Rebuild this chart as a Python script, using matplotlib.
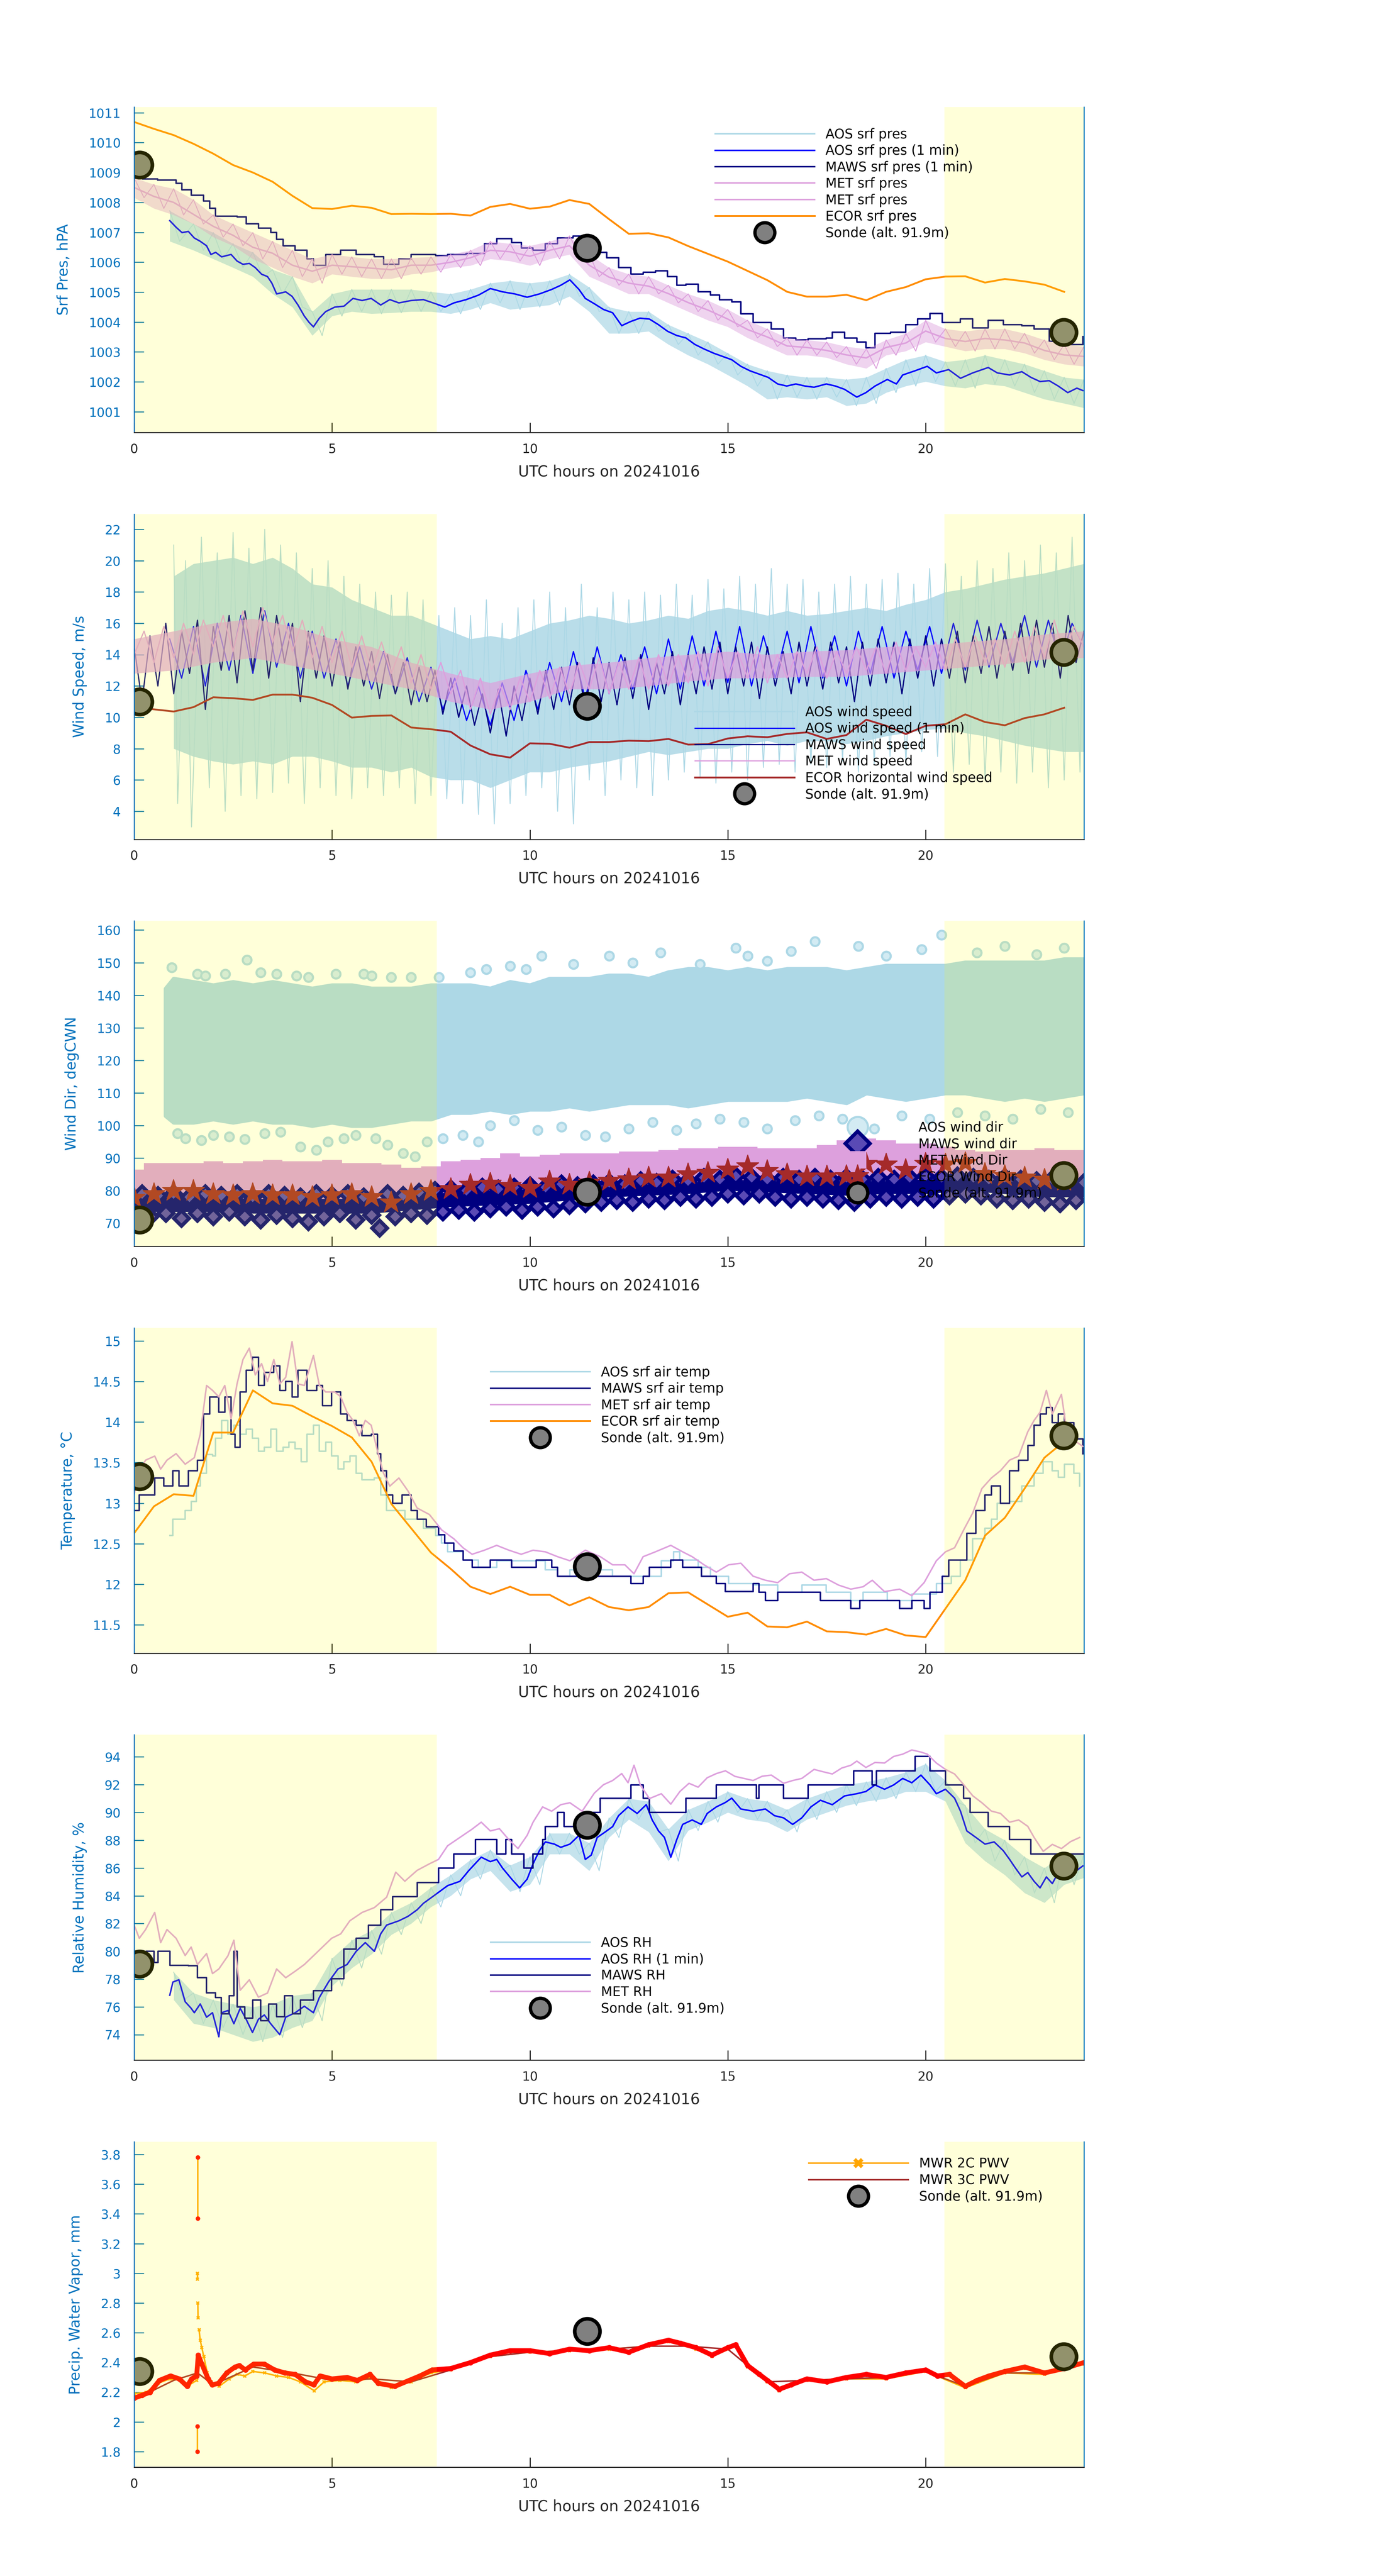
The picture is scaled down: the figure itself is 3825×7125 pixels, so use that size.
import numpy as np
import matplotlib
matplotlib.use('Agg')
import matplotlib.pyplot as plt
from matplotlib.lines import Line2D
from matplotlib.ticker import FuncFormatter

plt.rcParams['font.family'] = ['DejaVu Sans']

LIGHTBLUE = '#ADD8E6'
BLUE = '#0000FF'
NAVY = '#000080'
PLUM = '#DDA0DD'
DARKORANGE = '#FF8C00'
ORANGE = '#FFA500'
BROWN = '#A52A2A'
AXBLUE = '#0072BD'
DARK = '#262626'

W, H = 3825, 7125

# ---------------- shared ----------------
sonde_t = [0.14, 11.45, 23.49]
ecor_t = np.arange(0, 24, 0.5)
half_t = np.arange(0, 24.01, 0.5)
day_shade = [(0, 7.65), (20.47, 24)]
xticks = [0, 5, 10, 15, 20]

# ---------------- panel 1: surface pressure ----------------
p1_aos_t = np.r_[0.9, np.arange(1.5, 24.01, 0.5)]
p1_aos_hi = [1007.72, 1007.28, 1006.99, 1006.62, 1006.33, 1005.75, 1005.52, 1004.35, 1004.94, 1005.09,
             1005.09, 1005.09, 1005.09, 1005.01, 1004.94, 1005.09, 1005.30, 1005.38, 1005.30, 1005.38,
             1005.60, 1005.16, 1004.50, 1004.35, 1004.35, 1003.91, 1003.62, 1003.33, 1002.96, 1002.59,
             1002.37, 1002.23, 1002.15, 1002.15, 1002.08, 1002.15, 1002.45, 1002.74, 1002.89, 1002.67,
             1002.74, 1002.89, 1002.74, 1002.59, 1002.37, 1002.15, 1002.08]
p1_aos_lo = [1006.70, 1006.40, 1006.11, 1005.82, 1005.52, 1004.94, 1004.50, 1003.55, 1004.20, 1004.35,
             1004.28, 1004.31, 1004.35, 1004.35, 1004.28, 1004.42, 1004.64, 1004.42, 1004.50, 1004.57,
             1004.86, 1004.35, 1003.62, 1003.62, 1003.69, 1003.25, 1002.89, 1002.59, 1002.23, 1001.86,
             1001.42, 1001.49, 1001.42, 1001.49, 1001.20, 1001.28, 1001.64, 1001.86, 1002.01, 1001.86,
             1001.79, 1001.93, 1001.86, 1001.64, 1001.42, 1001.28, 1001.13]
p1_aos1m = [(0.90, 1007.39), (1.06, 1007.17), (1.21, 1006.99), (1.37, 1007.03), (1.52, 1006.81),
            (1.67, 1006.70), (1.83, 1006.55), (1.94, 1006.26), (2.06, 1006.33), (2.21, 1006.18),
            (2.45, 1006.26), (2.60, 1006.04), (2.75, 1005.93), (2.91, 1005.96), (3.06, 1005.82),
            (3.22, 1005.60), (3.37, 1005.52), (3.48, 1005.30), (3.60, 1004.94), (3.83, 1005.01),
            (3.99, 1004.86), (4.14, 1004.57), (4.30, 1004.20), (4.42, 1003.99), (4.53, 1003.84),
            (4.68, 1004.13), (4.84, 1004.35), (5.07, 1004.50), (5.30, 1004.53), (5.53, 1004.79),
            (5.76, 1004.72), (5.99, 1004.79), (6.23, 1004.57), (6.46, 1004.75), (6.69, 1004.64),
            (7.00, 1004.72), (7.31, 1004.75), (7.62, 1004.61), (7.85, 1004.50), (8.08, 1004.64),
            (8.39, 1004.75), (8.70, 1004.90), (9.00, 1005.12), (9.31, 1005.01), (9.62, 1004.94),
            (9.93, 1004.83), (10.24, 1004.94), (10.55, 1005.09), (10.78, 1005.23), (11.01, 1005.41),
            (11.24, 1005.09), (11.40, 1004.79), (11.63, 1004.61), (11.86, 1004.42), (12.09, 1004.31),
            (12.32, 1003.88), (12.55, 1004.02), (12.78, 1004.13), (13.02, 1004.10), (13.25, 1003.91),
            (13.48, 1003.69), (13.71, 1003.55), (13.94, 1003.47), (14.17, 1003.25), (14.40, 1003.10),
            (14.64, 1002.96), (14.87, 1002.85), (15.10, 1002.74), (15.33, 1002.52), (15.56, 1002.37),
            (15.79, 1002.26), (16.02, 1002.15), (16.26, 1001.93), (16.49, 1001.86), (16.72, 1001.93),
            (16.95, 1001.86), (17.18, 1001.82), (17.49, 1001.93), (17.72, 1001.86), (17.95, 1001.75),
            (18.26, 1001.49), (18.49, 1001.64), (18.72, 1001.86), (19.03, 1002.08), (19.26, 1001.93),
            (19.42, 1002.23), (19.73, 1002.37), (20.04, 1002.52), (20.27, 1002.30), (20.58, 1002.41),
            (20.88, 1002.12), (21.19, 1002.30), (21.58, 1002.48), (21.81, 1002.30), (22.12, 1002.23),
            (22.43, 1002.34), (22.66, 1002.15), (22.89, 1002.01), (23.12, 1002.04), (23.35, 1001.86),
            (23.59, 1001.64), (23.82, 1001.79), (23.97, 1001.71)]
p1_maws = [(0.0, 1008.86), (0.21, 1008.79), (0.59, 1008.75), (1.06, 1008.64), (1.21, 1008.42),
           (1.44, 1008.24), (1.75, 1008.05), (1.91, 1007.80), (2.06, 1007.54), (2.60, 1007.52),
           (2.83, 1007.28), (3.14, 1007.14), (3.45, 1006.99), (3.60, 1006.77), (3.76, 1006.55),
           (4.07, 1006.40), (4.37, 1006.11), (4.53, 1005.89), (4.84, 1006.26), (5.22, 1006.40),
           (5.61, 1006.26), (6.07, 1006.18), (6.30, 1005.93), (6.69, 1006.11), (7.00, 1006.26),
           (7.62, 1006.22), (7.92, 1006.26), (8.39, 1006.29), (8.85, 1006.62), (9.16, 1006.79),
           (9.54, 1006.66), (9.78, 1006.48), (10.08, 1006.40), (10.39, 1006.62), (10.70, 1006.81),
           (11.09, 1006.88), (11.40, 1006.62), (11.63, 1006.33), (11.94, 1006.15), (12.24, 1005.82),
           (12.55, 1005.60), (12.86, 1005.67), (13.17, 1005.71), (13.48, 1005.52), (13.71, 1005.23),
           (13.94, 1005.27), (14.25, 1005.01), (14.56, 1004.90), (14.79, 1004.75), (15.10, 1004.68),
           (15.33, 1004.28), (15.64, 1003.99), (16.10, 1003.77), (16.41, 1003.47), (16.72, 1003.40),
           (17.03, 1003.44), (17.49, 1003.47), (17.64, 1003.66), (17.95, 1003.47), (18.26, 1003.33),
           (18.49, 1003.14), (18.72, 1003.62), (19.11, 1003.66), (19.50, 1003.91), (19.80, 1004.10),
           (20.11, 1004.29), (20.42, 1003.99), (20.88, 1004.10), (21.19, 1003.80), (21.58, 1004.06),
           (21.96, 1003.91), (22.43, 1003.88), (22.74, 1003.77), (23.12, 1003.36), (23.51, 1003.25),
           (23.97, 1003.51)]
p1_met_hi = [1008.82, 1008.60, 1008.46, 1008.09, 1007.58, 1007.28, 1006.99, 1006.70, 1006.40, 1006.11,
             1006.26, 1006.18, 1006.11, 1006.11, 1006.15, 1006.18, 1006.26, 1006.40, 1006.70, 1006.62,
             1006.55, 1006.70, 1006.88, 1006.26, 1005.82, 1005.60, 1005.52, 1005.23, 1004.94, 1004.72,
             1004.42, 1004.06, 1003.77, 1003.47, 1003.40, 1003.33, 1003.18, 1003.10, 1003.40, 1003.62,
             1004.06, 1003.77, 1003.69, 1003.77, 1003.77, 1003.62, 1003.40, 1003.25, 1003.18]
p1_met_lo = [1008.16, 1007.80, 1007.58, 1007.28, 1006.84, 1006.55, 1006.11, 1005.82, 1005.52, 1005.30,
             1005.60, 1005.52, 1005.45, 1005.45, 1005.60, 1005.67, 1005.82, 1005.89, 1006.11, 1006.04,
             1005.89, 1006.11, 1006.26, 1005.52, 1005.23, 1004.94, 1004.94, 1004.64, 1004.35, 1004.06,
             1003.84, 1003.47, 1003.18, 1002.89, 1002.89, 1002.81, 1002.59, 1002.45, 1002.89, 1003.03,
             1003.33, 1003.18, 1003.03, 1003.10, 1003.10, 1002.96, 1002.74, 1002.59, 1002.52]
p1_met_mid = [1008.5, 1008.2, 1008.0, 1007.6, 1007.2, 1006.9, 1006.5, 1006.3, 1005.9, 1005.7,
              1005.9, 1005.85, 1005.8, 1005.75, 1005.9, 1005.9, 1006.0, 1006.15, 1006.4, 1006.35,
              1006.2, 1006.4, 1006.55, 1005.9, 1005.5, 1005.3, 1005.2, 1004.95, 1004.65, 1004.4,
              1004.1, 1003.75, 1003.5, 1003.2, 1003.15, 1003.05, 1002.9, 1002.8, 1003.15, 1003.3,
              1003.7, 1003.45, 1003.35, 1003.45, 1003.4, 1003.3, 1003.05, 1002.9, 1002.85]
p1_ecor = [1010.69, 1010.46, 1010.25, 1009.96, 1009.63, 1009.25, 1009.00, 1008.69, 1008.22, 1007.81,
           1007.78, 1007.89, 1007.82, 1007.61, 1007.62, 1007.61, 1007.62, 1007.56, 1007.85, 1007.95,
           1007.79, 1007.86, 1008.08, 1007.95, 1007.44, 1006.95, 1006.97, 1006.83, 1006.54, 1006.28,
           1006.02, 1005.71, 1005.40, 1005.01, 1004.85, 1004.85, 1004.91, 1004.73, 1005.01, 1005.17,
           1005.43, 1005.52, 1005.53, 1005.32, 1005.44, 1005.36, 1005.25, 1005.01]
p1_sonde = [1009.26, 1006.47, 1003.66]

# ---------------- panel 2: wind speed ----------------
p2_aos_t = np.arange(1.0, 24.01, 0.5)
p2_aos_hi = [19.0, 19.8, 20.0, 20.2, 19.8, 20.2, 19.5, 18.5, 18.3, 17.5,
             17.0, 16.5, 16.5, 16.0, 15.5, 15.0, 15.2, 15.0, 15.5, 16.0,
             16.2, 16.5, 16.3, 16.0, 16.2, 16.5, 16.3, 16.8, 17.0, 16.8,
             16.5, 16.8, 16.5, 16.6, 16.8, 17.0, 16.8, 17.2, 17.5, 18.0,
             18.2, 18.5, 18.8, 19.0, 19.2, 19.5, 19.8]
p2_aos_lo = [8.0, 7.5, 7.2, 7.0, 7.2, 7.0, 7.5, 7.5, 7.2, 6.8,
             6.8, 6.5, 6.8, 6.2, 6.0, 6.0, 5.5, 6.0, 6.5, 6.5,
             6.8, 7.0, 7.2, 7.5, 7.8, 7.6, 7.8, 8.0, 8.0, 8.3,
             8.5, 8.2, 8.5, 8.5, 8.3, 8.5, 8.8, 9.0, 9.2, 9.3,
             9.0, 8.8, 8.5, 8.2, 8.0, 7.8, 7.8]
p2_aos_spikes = [(1.0, 21.0), (1.1, 4.5), (1.3, 20.0), (1.45, 3.0), (1.7, 21.5), (1.9, 5.5), (2.1, 20.5),
                 (2.3, 4.0), (2.5, 21.8), (2.7, 5.0), (2.9, 20.8), (3.1, 4.8), (3.3, 22.0), (3.5, 5.2),
                 (3.7, 21.0), (3.9, 5.8), (4.1, 20.5), (4.3, 4.5), (4.5, 19.5), (4.7, 5.5), (4.9, 20.0),
                 (5.1, 5.0), (5.3, 19.0), (5.5, 4.8), (5.7, 18.5), (5.9, 5.5), (6.1, 18.0), (6.3, 5.0),
                 (6.5, 17.8), (6.7, 5.5), (6.9, 18.0), (7.1, 4.5), (7.3, 17.5), (7.5, 5.0), (7.7, 16.5),
                 (7.9, 4.8), (8.1, 17.0), (8.3, 4.5), (8.5, 16.5), (8.7, 3.8), (8.9, 17.5), (9.1, 3.2),
                 (9.3, 16.0), (9.5, 4.5), (9.7, 17.0), (9.9, 5.0), (10.1, 17.5), (10.3, 5.5), (10.5, 18.0),
                 (10.7, 4.0), (10.9, 17.0), (11.1, 3.2), (11.3, 18.5), (11.5, 6.0), (11.7, 17.0),
                 (11.9, 5.0), (12.1, 18.0), (12.3, 6.0), (12.5, 17.5), (12.7, 5.5), (12.9, 18.0),
                 (13.1, 5.0), (13.3, 17.8), (13.5, 6.0), (13.7, 18.5), (13.9, 6.5), (14.1, 17.8),
                 (14.3, 6.2), (14.5, 18.8), (14.7, 5.8), (14.9, 18.2), (15.1, 6.5), (15.3, 19.0),
                 (15.5, 6.0), (15.7, 18.5), (15.9, 6.8), (16.1, 19.5), (16.3, 7.0), (16.5, 18.5),
                 (16.7, 6.5), (16.9, 18.8), (17.1, 7.0), (17.3, 18.0), (17.5, 6.8), (17.7, 18.5),
                 (17.9, 7.2), (18.1, 19.0), (18.3, 6.5), (18.5, 18.5), (18.7, 7.0), (18.9, 18.8),
                 (19.1, 7.5), (19.3, 19.2), (19.5, 7.0), (19.7, 18.5), (19.9, 7.8), (20.1, 19.5),
                 (20.3, 7.5), (20.5, 19.8), (20.7, 6.5), (20.9, 19.0), (21.1, 7.0), (21.3, 20.0),
                 (21.5, 6.0), (21.7, 19.5), (21.9, 6.5), (22.1, 20.5), (22.3, 5.8), (22.5, 20.0),
                 (22.7, 6.5), (22.9, 21.0), (23.1, 5.5), (23.3, 20.5), (23.5, 6.0), (23.7, 21.5),
                 (23.9, 6.5), (24.0, 20.0)]
p2_aos1m_t = np.arange(0.9, 24.01, 0.3)
p2_aos1m = [15.0, 12.5, 15.8, 12.0, 16.0, 13.0, 16.5, 12.8, 16.8, 13.2,
            16.0, 12.5, 15.5, 12.5, 15.0, 12.0, 14.5, 11.8, 14.2, 11.5,
            13.8, 11.0, 13.2, 10.5, 12.5, 9.8, 12.0, 9.5, 12.2, 9.8,
            13.0, 10.5, 13.5, 11.0, 14.2, 11.2, 14.5, 11.5, 14.0, 11.8,
            14.5, 11.5, 15.0, 11.8, 15.2, 12.0, 15.5, 12.2, 15.8, 12.0,
            15.2, 12.5, 15.5, 12.2, 15.8, 12.5, 15.2, 12.0, 15.5, 12.8,
            15.8, 12.5, 15.5, 13.0, 15.8, 12.8, 16.0, 13.0, 16.2, 13.2,
            16.0, 13.5, 16.5, 13.2, 16.2, 13.5, 16.0, 14.5]
p2_maws_t = np.arange(0, 24.01, 0.2)
p2_maws = [14.5, 11.0, 15.2, 12.0, 16.0, 11.5, 15.5, 12.8, 16.2, 10.5,
           15.8, 13.0, 16.5, 12.2, 16.8, 13.0, 17.0, 12.5, 16.5, 13.5,
           16.0, 11.0, 15.5, 12.5, 15.2, 12.0, 14.8, 11.8, 14.5, 12.0,
           14.2, 11.2, 14.0, 11.5, 13.5, 10.8, 13.2, 11.0, 13.0, 10.2,
           12.5, 10.0, 12.0, 9.5, 11.5, 9.0, 11.8, 8.8, 12.0, 9.8,
           12.5, 10.2, 13.0, 10.5, 13.2, 10.8, 13.5, 10.5, 13.8, 11.0,
           13.5, 10.8, 13.8, 11.2, 14.0, 10.5, 13.5, 11.5, 14.2, 10.8,
           14.0, 11.5, 14.5, 11.8, 14.8, 11.5, 14.5, 12.0, 14.8, 11.2,
           14.5, 12.0, 14.2, 11.5, 14.8, 12.0, 14.5, 11.8, 14.8, 12.2,
           14.5, 11.0, 14.8, 12.0, 15.0, 12.2, 14.8, 11.5, 15.0, 12.5,
           15.2, 12.0, 15.0, 12.5, 15.5, 12.2, 15.2, 12.8, 15.8, 12.5,
           15.5, 13.0, 16.0, 12.8, 16.2, 13.2, 16.0, 12.5, 16.5, 13.5,
           15.5]
p2_met_core_t = np.arange(0, 24.01, 1.0)
p2_met_core_lo = [12.8, 13.0, 13.5, 13.8, 13.3, 12.8, 12.3, 11.8, 11.0, 10.5, 11.0, 11.8, 11.8,
                  12.0, 12.3, 12.5, 12.5, 12.6, 12.6, 12.8, 13.0, 13.2, 13.4, 13.7, 13.8]
p2_met_core_hi = [15.0, 15.5, 16.0, 16.3, 15.8, 15.0, 14.5, 13.5, 12.8, 12.2, 12.8, 13.3, 13.5,
                  13.8, 14.0, 14.2, 14.0, 14.2, 14.3, 14.5, 14.6, 14.8, 15.0, 15.3, 15.5]
p2_met_t = np.arange(0, 24.01, 0.25)
p2_met = [14.0, 15.5, 13.5, 15.8, 13.8, 16.0, 14.0, 16.2,
          14.5, 16.5, 14.2, 16.8, 14.5, 17.0, 14.8, 16.5,
          14.2, 16.2, 13.8, 15.8, 13.5, 15.5, 13.2, 15.2,
          13.0, 14.8, 12.8, 14.5, 12.2, 14.0, 11.8, 13.5,
          11.5, 13.0, 10.5, 12.5, 10.2, 12.0, 10.5, 12.5,
          11.0, 13.0, 11.2, 13.2, 11.5, 13.5, 11.8, 13.8,
          11.5, 13.5, 11.8, 13.8, 11.8, 14.0, 12.0, 14.0,
          12.2, 14.2, 12.0, 14.5, 12.5, 14.2, 12.5, 14.5,
          12.2, 14.0, 12.5, 14.2, 12.8, 14.5, 12.5, 14.2,
          12.8, 14.5, 13.0, 14.5, 12.8, 14.8, 13.0, 14.5,
          13.2, 14.8, 13.0, 15.0, 13.2, 15.2, 13.5, 15.0,
          13.2, 15.5, 13.5, 15.8, 13.8, 16.2, 14.0, 15.8,
          14.5]
p2_ecor = [10.65, 10.51, 10.37, 10.65, 11.28, 11.22, 11.11, 11.45, 11.45, 11.25,
           10.79, 9.98, 10.09, 10.12, 9.35, 9.24, 9.08, 8.20, 7.64, 7.43,
           8.34, 8.31, 8.06, 8.42, 8.42, 8.51, 8.48, 8.62, 8.26, 8.29,
           8.65, 8.79, 8.73, 8.94, 9.04, 8.62, 8.87, 9.85, 9.46, 8.93,
           9.46, 9.56, 10.19, 9.70, 9.49, 9.95, 10.19, 10.61]
p2_sonde = [11.0, 10.72, 14.15]

# ---------------- panel 3: wind direction ----------------
p3_aos_t = np.r_[0.8, np.arange(1.0, 24.01, 0.5)]
p3_aos_lo = [103, 101, 101, 102, 101, 102, 101, 101, 100, 101, 100, 100, 101, 102, 102, 104,
             104, 105, 104, 105, 105, 106, 105, 106, 107, 107, 107, 106, 107, 108, 108, 108,
             108, 109, 108, 107, 110, 109, 108, 109, 110, 110, 109, 108, 109, 108, 109, 110]
p3_aos_hi = [142, 145, 144, 143, 144, 143, 144, 143, 142, 143, 143, 142, 142, 142, 143, 143,
             143, 142, 144, 143, 145, 145, 145, 146, 146, 145, 147, 148, 148, 147, 148, 147,
             148, 148, 148, 147, 148, 149, 149, 149, 149, 150, 150, 150, 150, 150, 151, 151]
p3_aos_out = [(0.95, 148.5), (2.85, 150.8), (1.6, 146.5), (1.8, 146), (2.3, 146.5), (3.2, 147),
              (3.6, 146.5), (4.1, 146), (4.4, 145.5), (5.1, 146.5), (5.8, 146.5), (6.0, 146),
              (6.5, 145.5), (7.0, 145.5), (7.7, 145.5), (8.5, 147), (8.9, 148), (9.5, 149), (9.9, 148),
              (10.3, 152), (11.1, 149.5), (12.0, 152), (12.6, 150), (13.3, 153), (14.3, 149.5),
              (15.2, 154.5), (15.5, 152), (16.0, 150.5), (16.6, 153.5), (17.2, 156.5), (18.3, 155),
              (19.0, 152), (19.9, 154), (20.4, 158.5), (21.3, 153), (22.0, 155), (22.8, 152.5),
              (23.5, 154.5),
              (1.1, 97.5), (1.3, 96.0), (1.7, 95.5), (2.0, 97), (2.4, 96.5), (2.8, 95.8), (3.3, 97.5),
              (3.7, 98), (4.2, 93.5), (4.6, 92.5), (4.9, 95), (5.3, 96), (5.6, 97), (6.1, 96),
              (6.4, 94), (6.8, 91.5), (7.1, 90.5), (7.4, 95), (7.8, 96), (8.3, 97), (8.7, 95),
              (9.0, 100), (9.6, 101.5), (10.2, 98.5), (10.8, 99.5), (11.4, 97), (11.9, 96.5),
              (12.5, 99), (13.1, 101), (13.7, 98.5), (14.2, 100.5), (14.8, 102), (15.4, 101),
              (16.0, 99), (16.7, 101.5), (17.3, 103), (17.9, 102), (18.3, 100), (18.7, 99),
              (19.4, 103), (20.1, 102), (20.8, 104), (21.5, 103), (22.2, 102), (22.9, 105),
              (23.6, 104)]
p3_met_lo = [77, 77, 77, 77, 77.5, 77, 77, 77, 76.5,
             76.5, 77, 77, 76.5, 75.5, 76, 77, 78, 79,
             79.5, 79.5, 79.5, 80, 80, 80.5, 81, 81, 81.5,
             82, 82, 82.5, 83, 83, 82.5, 82, 82, 82,
             82.5, 83, 83, 83, 83, 83, 82.5, 82, 82,
             81.5, 81.5, 81, 81]
p3_met_hi = [86.5, 88.5, 88.5, 88.5, 89, 88.5, 89, 89.5, 89,
             89, 89.5, 88.5, 88.5, 88, 87, 87.5, 89, 89.5,
             90, 91.5, 90.5, 91, 91.5, 91.5, 91.5, 92, 92,
             92.5, 93, 93, 93.5, 93.5, 93, 93, 93, 94,
             95.5, 96, 95.5, 94.5, 94.5, 93.5, 92.5, 92, 92.5,
             92.5, 93, 92.5, 92.5]
p3_maws_core_t = np.arange(0, 24.01, 1.0)
p3_maws_core_lo = [73.5, 73.5, 73.5, 73, 73, 73, 73, 74, 75, 75.5, 76, 77, 78,
                   78.5, 79, 80, 79.5, 79, 78.5, 79, 79, 80, 79, 78, 78]
p3_maws_core_hi = [78, 78, 78, 77.5, 77.5, 77.5, 77.5, 78.5, 79.5, 80, 80.5, 81, 81.5,
                   82, 82.5, 83.5, 83, 83, 83, 83, 83.5, 83.5, 83, 82.5, 82]
p3_maws_t = np.arange(0, 24.01, 0.2)
p3_maws = [74, 79, 72, 78.5, 73, 79, 71.5, 78, 73, 79,
           72, 78.5, 73.5, 79, 72, 78, 71, 79, 72.5, 78.5,
           71.5, 78, 70.5, 79, 72, 78.5, 73, 79, 71, 78,
           72.5, 68.5, 79, 72, 78.5, 73, 79.5, 72.5, 80, 73.5,
           80.5, 74, 80, 73.5, 81, 74.5, 80.5, 75, 81, 74,
           81.5, 75, 81, 74.5, 82, 75.5, 81.5, 76, 82, 76.5,
           82.5, 77, 82, 76.5, 83, 77.5, 82.5, 77, 83.5, 78,
           83, 77.5, 84, 78, 83.5, 79, 84.5, 78.5, 84, 79,
           83.5, 78, 84, 77.5, 83.5, 78, 84, 77.5, 83.5, 77,
           84, 76.5, 83.5, 77.5, 84, 78, 83.5, 77.5, 84, 78,
           84.5, 77.5, 84, 78.5, 84.5, 79, 84, 78.5, 83.5, 77.5,
           84, 77, 83.5, 77.5, 83, 76.5, 83.5, 76, 83, 77,
           82.5]
p3_ecor = [77.8, 78.9, 79.9, 79.9, 78.9, 78.6, 78.9, 78.6, 78.6, 78.0,
           78.6, 78.9, 78.0, 76.4, 78.9, 79.9, 80.5, 81.8, 82.1, 81.5,
           80.8, 82.8, 81.8, 82.5, 83.0, 83.5, 84.0, 84.0, 85.0, 85.5,
           86.5, 87.5, 86.0, 85.0, 84.3, 84.3, 84.5, 88.2, 88.0, 86.3,
           88.2, 88.0, 88.4, 85.1, 84.5, 84.0, 83.4, 83.0]
p3_sonde = [71.0, 79.6, 84.7]

# ---------------- panel 4: temperature ----------------
p4_aos = [(0.90, 12.60), (0.98, 12.80), (1.13, 12.80), (1.29, 12.91), (1.44, 13.02), (1.57, 13.21),
          (1.67, 13.37), (1.83, 13.60), (1.98, 13.58), (2.06, 13.80), (2.21, 14.02), (2.37, 13.85),
          (2.52, 13.96), (2.68, 13.85), (2.83, 13.91), (2.99, 13.80), (3.14, 13.64), (3.29, 13.69),
          (3.45, 13.91), (3.60, 13.64), (3.76, 13.69), (3.91, 13.75), (4.07, 13.67), (4.22, 13.51),
          (4.37, 13.85), (4.53, 13.96), (4.68, 13.64), (4.84, 13.75), (4.99, 13.58), (5.15, 13.42),
          (5.30, 13.51), (5.45, 13.58), (5.61, 13.37), (5.76, 13.29), (6.07, 13.31), (6.23, 13.10),
          (6.38, 12.91), (6.69, 12.91), (6.84, 12.80), (7.15, 12.80), (7.31, 12.69), (7.62, 12.60),
          (7.77, 12.51), (7.92, 12.40), (8.31, 12.30), (8.70, 12.21), (9.16, 12.29), (9.93, 12.29),
          (10.39, 12.18), (10.70, 12.10), (11.01, 12.18), (11.63, 12.18), (12.09, 12.10),
          (13.02, 12.10), (13.32, 12.29), (13.63, 12.40), (13.79, 12.30), (14.25, 12.21),
          (14.56, 12.10), (15.02, 12.01), (15.64, 11.99), (16.26, 11.90), (16.87, 11.99),
          (17.49, 11.90), (18.11, 11.80), (18.42, 11.90), (19.03, 11.80), (19.65, 11.88),
          (19.96, 11.88), (20.27, 12.01), (20.65, 12.10), (20.88, 12.30), (21.19, 12.56),
          (21.50, 12.69), (21.66, 12.80), (21.81, 13.00), (22.12, 13.02), (22.43, 13.21),
          (22.74, 13.37), (22.97, 13.51), (23.20, 13.40), (23.35, 13.32), (23.51, 13.48),
          (23.74, 13.37), (23.89, 13.21)]
p4_maws = [(0.0, 12.91), (0.13, 13.10), (0.36, 13.10), (0.52, 13.31), (0.75, 13.21), (0.98, 13.40),
           (1.13, 13.21), (1.37, 13.40), (1.60, 13.53), (1.75, 14.10), (1.91, 14.31), (2.14, 14.12),
           (2.29, 14.31), (2.45, 13.85), (2.55, 13.69), (2.68, 14.37), (2.83, 14.64), (2.99, 14.80),
           (3.14, 14.45), (3.29, 14.61), (3.53, 14.69), (3.68, 14.39), (3.83, 14.50), (3.99, 14.31),
           (4.14, 14.64), (4.37, 14.39), (4.61, 14.45), (4.76, 14.20), (4.99, 14.37), (5.22, 14.10),
           (5.38, 14.02), (5.61, 13.96), (5.76, 13.83), (5.99, 13.85), (6.15, 13.61), (6.23, 13.40),
           (6.38, 13.10), (6.53, 13.00), (6.77, 13.10), (7.00, 12.91), (7.15, 12.80), (7.38, 12.71),
           (7.69, 12.61), (7.85, 12.51), (8.08, 12.41), (8.31, 12.30), (8.54, 12.21), (9.00, 12.30),
           (9.54, 12.21), (10.16, 12.30), (10.55, 12.21), (10.70, 12.10), (11.78, 12.10),
           (12.55, 12.01), (12.86, 12.10), (13.02, 12.21), (13.56, 12.30), (13.86, 12.21),
           (14.33, 12.10), (14.71, 12.01), (14.94, 11.91), (15.64, 12.01), (15.79, 11.90),
           (15.95, 11.80), (16.26, 11.90), (17.18, 11.90), (17.34, 11.80), (17.95, 11.80),
           (18.11, 11.70), (18.34, 11.80), (18.88, 11.80), (19.34, 11.70), (19.65, 11.80),
           (19.96, 11.70), (20.11, 11.90), (20.42, 12.10), (20.58, 12.30), (20.88, 12.30),
           (21.04, 12.63), (21.27, 12.91), (21.50, 13.10), (21.66, 13.21), (21.89, 13.00),
           (22.12, 13.40), (22.35, 13.53), (22.58, 13.71), (22.74, 13.96), (22.89, 14.10),
           (23.05, 14.18), (23.20, 13.99), (23.35, 14.10), (23.51, 13.99), (23.74, 13.79),
           (23.97, 13.61)]
p4_met = [(0.0, 13.10), (0.13, 13.40), (0.29, 13.53), (0.52, 13.58), (0.67, 13.42), (0.83, 13.53),
          (1.06, 13.61), (1.29, 13.48), (1.52, 13.56), (1.67, 13.85), (1.83, 14.45), (1.98, 14.39),
          (2.14, 14.31), (2.29, 14.45), (2.45, 14.04), (2.60, 14.47), (2.75, 14.77), (2.91, 14.91),
          (3.06, 14.58), (3.22, 14.72), (3.37, 14.50), (3.53, 14.77), (3.68, 14.47), (3.83, 14.55),
          (3.99, 14.99), (4.14, 14.47), (4.30, 14.45), (4.53, 14.82), (4.68, 14.45), (4.84, 14.37),
          (5.07, 14.37), (5.22, 14.31), (5.38, 14.12), (5.53, 14.02), (5.69, 13.83), (5.84, 14.02),
          (5.99, 13.96), (6.15, 13.64), (6.30, 13.37), (6.46, 13.21), (6.69, 13.31), (6.92, 13.15),
          (7.15, 12.94), (7.46, 12.86), (7.77, 12.67), (8.08, 12.56), (8.31, 12.45), (8.54, 12.37),
          (8.85, 12.42), (9.16, 12.48), (9.47, 12.42), (9.78, 12.37), (10.08, 12.42), (10.39, 12.40),
          (10.70, 12.34), (11.01, 12.29), (11.40, 12.42), (11.78, 12.34), (12.09, 12.24),
          (12.40, 12.24), (12.63, 12.13), (12.86, 12.34), (13.17, 12.40), (13.56, 12.48),
          (13.86, 12.40), (14.10, 12.34), (14.40, 12.24), (14.71, 12.15), (15.02, 12.24),
          (15.33, 12.26), (15.64, 12.10), (15.95, 12.05), (16.26, 12.02), (16.56, 12.13),
          (16.87, 12.15), (17.18, 12.05), (17.49, 12.07), (17.80, 11.99), (18.11, 11.94),
          (18.42, 11.97), (18.65, 12.05), (18.96, 11.91), (19.34, 11.94), (19.65, 11.86),
          (19.96, 12.02), (20.27, 12.29), (20.50, 12.40), (20.73, 12.45), (20.96, 12.67),
          (21.19, 12.88), (21.42, 13.18), (21.66, 13.31), (21.89, 13.40), (22.12, 13.53),
          (22.35, 13.58), (22.58, 13.88), (22.74, 14.02), (22.89, 14.12), (23.05, 14.39),
          (23.20, 14.10), (23.43, 14.34), (23.59, 13.80), (23.82, 13.75), (23.97, 13.70)]
p4_ecor = [12.63, 12.96, 13.11, 13.09, 13.87, 13.87, 14.39, 14.23, 14.20, 14.07,
           13.95, 13.81, 13.51, 12.99, 12.69, 12.39, 12.19, 11.97, 11.88, 11.97,
           11.87, 11.87, 11.74, 11.84, 11.72, 11.68, 11.72, 11.89, 11.90, 11.75,
           11.60, 11.65, 11.48, 11.47, 11.54, 11.42, 11.41, 11.38, 11.45, 11.37,
           11.35, 11.70, 12.05, 12.60, 12.82, 13.18, 13.56, 13.76]
p4_sonde = [13.33, 12.22, 13.83]

# ---------------- panel 5: relative humidity ----------------
p5_aos_t = np.arange(1.0, 24.01, 0.5)
p5_aos_lo = [76.5, 74.8, 74.5, 74.0, 73.5, 73.8, 74.5, 75.0, 77.5, 78.8,
             79.8, 81.2, 82.0, 83.2, 84.0, 85.2, 85.8, 84.3, 84.8, 87.0,
             87.0, 85.8, 88.2, 89.5, 88.6, 86.5, 88.7, 89.3, 90.0, 89.5,
             89.3, 88.6, 89.5, 90.0, 90.5, 90.8, 91.0, 91.5, 91.5, 90.8,
             87.8, 86.5, 85.5, 84.2, 83.5, 84.8, 85.3]
p5_aos_hi = [78.5, 77.0, 76.5, 76.2, 76.0, 76.2, 76.8, 77.0, 79.5, 80.8,
             81.5, 82.8, 83.5, 84.6, 85.5, 86.6, 87.3, 86.2, 86.8, 88.5,
             88.5, 87.8, 89.6, 91.0, 90.8, 88.8, 90.2, 90.8, 91.5, 91.0,
             90.8, 90.2, 91.0, 91.5, 92.0, 92.2, 92.5, 92.9, 93.5, 92.3,
             90.5, 88.8, 88.0, 86.8, 86.0, 87.0, 87.0]
p5_aos1m = [(0.90, 76.84), (0.98, 77.79), (1.13, 77.95), (1.29, 76.37), (1.44, 75.90), (1.52, 75.58),
            (1.67, 76.21), (1.83, 75.26), (1.98, 75.58), (2.14, 73.85), (2.21, 75.58), (2.37, 75.74),
            (2.52, 74.79), (2.68, 75.90), (2.83, 75.11), (2.99, 74.16), (3.14, 75.11), (3.29, 75.42),
            (3.45, 74.79), (3.68, 74.00), (3.83, 75.26), (4.07, 75.58), (4.30, 76.05), (4.53, 75.58),
            (4.68, 76.68), (4.91, 77.79), (5.15, 78.73), (5.38, 79.05), (5.61, 80.00), (5.84, 80.63),
            (6.07, 80.00), (6.23, 81.26), (6.38, 81.89), (6.69, 82.20), (6.92, 82.52), (7.15, 82.99),
            (7.31, 83.46), (7.62, 84.10), (7.92, 84.73), (8.23, 85.04), (8.46, 85.83), (8.77, 86.78),
            (9.00, 86.46), (9.16, 86.62), (9.31, 85.99), (9.54, 85.20), (9.74, 84.57), (9.93, 85.20),
            (10.08, 86.30), (10.24, 87.25), (10.39, 87.88), (10.62, 87.72), (10.78, 87.49),
            (11.01, 87.72), (11.24, 88.35), (11.40, 86.62), (11.55, 86.93), (11.70, 88.20),
            (11.86, 88.51), (12.09, 88.98), (12.24, 89.77), (12.48, 90.40), (12.71, 89.93),
            (12.94, 90.56), (13.09, 89.46), (13.25, 88.67), (13.40, 88.20), (13.56, 86.78),
            (13.71, 88.04), (13.86, 89.14), (14.10, 89.46), (14.33, 89.14), (14.48, 89.93),
            (14.71, 90.40), (14.94, 90.72), (15.10, 91.03), (15.33, 90.25), (15.64, 90.09),
            (15.95, 90.25), (16.18, 89.77), (16.41, 89.61), (16.64, 89.14), (16.87, 89.61),
            (17.10, 90.40), (17.34, 90.88), (17.64, 90.56), (17.95, 91.19), (18.26, 91.35),
            (18.49, 91.51), (18.72, 91.98), (18.96, 91.67), (19.19, 91.98), (19.42, 92.45),
            (19.65, 92.14), (19.88, 92.69), (20.11, 91.98), (20.27, 91.35), (20.50, 91.67),
            (20.73, 91.03), (20.88, 90.09), (21.04, 88.67), (21.27, 88.20), (21.50, 87.72),
            (21.73, 87.88), (21.96, 87.25), (22.12, 86.62), (22.27, 85.99), (22.43, 85.36),
            (22.58, 85.67), (22.74, 85.04), (22.89, 84.57), (23.05, 85.36), (23.20, 84.88),
            (23.35, 85.67), (23.59, 86.30), (23.82, 85.83), (23.97, 86.15)]
p5_maws = [(0.0, 79.0), (0.05, 80.0), (0.2, 79.5), (0.3, 80.0), (0.5, 79.2), (0.6, 80.0), (0.9, 79.0),
           (1.37, 78.97), (1.60, 78.10), (1.83, 77.00), (2.06, 76.68), (2.2, 75.5), (2.4, 76.8),
           (2.52, 80.0), (2.6, 76.0), (2.8, 75.2), (3.0, 76.5), (3.2, 75.0), (3.4, 76.2), (3.6, 75.3),
           (3.8, 76.8), (4.0, 75.5), (4.2, 76.5), (4.53, 77.16), (4.99, 78.02), (5.30, 80.15),
           (5.61, 80.94), (5.92, 81.89), (6.23, 82.99), (6.53, 83.94), (7.15, 84.96), (7.69, 85.99),
           (8.08, 87.01), (8.62, 88.04), (9.16, 87.01), (9.39, 88.04), (9.54, 87.01), (9.85, 85.99),
           (10.08, 87.01), (10.32, 88.04), (10.39, 88.98), (10.70, 90.01), (10.86, 88.98),
           (11.32, 90.01), (11.78, 91.03), (12.55, 91.98), (12.86, 91.03), (13.02, 90.01),
           (13.94, 91.03), (14.71, 91.98), (15.72, 91.03), (15.79, 91.98), (16.41, 91.03),
           (17.03, 91.98), (18.18, 93.00), (18.65, 91.98), (18.76, 93.00), (19.73, 94.03),
           (20.11, 93.00), (20.50, 91.98), (20.96, 91.03), (21.12, 90.01), (21.58, 88.98),
           (22.12, 88.04), (22.66, 87.01), (23.97, 87.01)]
p5_met = [(0.0, 81.89), (0.13, 80.94), (0.29, 81.57), (0.52, 82.8), (0.67, 80.63), (0.83, 81.57),
          (1.06, 80.94), (1.29, 79.7), (1.44, 80.31), (1.60, 79.05), (1.83, 79.84), (1.98, 78.4),
          (2.14, 78.73), (2.37, 79.68), (2.52, 80.8), (2.68, 77.2), (2.91, 77.95), (3.14, 76.7),
          (3.37, 77.0), (3.60, 78.73), (3.83, 78.1), (4.07, 78.57), (4.30, 79.05), (4.53, 79.68),
          (4.76, 80.31), (4.99, 80.94), (5.22, 81.26), (5.45, 82.2), (5.76, 82.8), (6.07, 83.15),
          (6.38, 83.9), (6.61, 85.7), (6.84, 85.05), (7.15, 85.83), (7.46, 86.3), (7.69, 86.62),
          (7.92, 87.6), (8.23, 88.2), (8.54, 88.8), (8.77, 89.3), (9.00, 88.67), (9.23, 88.83),
          (9.47, 88.04), (9.70, 87.4), (9.93, 88.35), (10.08, 89.3), (10.32, 90.4), (10.55, 90.09),
          (10.78, 90.56), (11.01, 90.7), (11.32, 90.09), (11.63, 91.4), (11.86, 92.0), (12.09, 92.3),
          (12.32, 92.8), (12.48, 92.14), (12.63, 93.4), (12.79, 91.98), (13.02, 91.0), (13.32, 91.35),
          (13.56, 90.6), (13.79, 91.51), (14.02, 92.1), (14.25, 91.82), (14.48, 92.5), (14.71, 92.8),
          (14.94, 93.0), (15.18, 92.6), (15.41, 92.45), (15.64, 92.3), (15.87, 92.61), (16.10, 92.69),
          (16.41, 92.1), (16.64, 92.3), (16.87, 92.45), (17.18, 93.1), (17.41, 92.93), (17.64, 92.77),
          (17.88, 93.2), (18.11, 93.4), (18.26, 93.7), (18.49, 93.24), (18.72, 93.6), (18.96, 93.56),
          (19.19, 94.03), (19.42, 94.2), (19.65, 94.5), (19.88, 94.35), (20.04, 94.2), (20.27, 93.56),
          (20.50, 93.1), (20.73, 92.77), (20.96, 92.0), (21.19, 91.2), (21.42, 90.7), (21.66, 90.1),
          (21.89, 89.93), (22.12, 89.3), (22.35, 89.46), (22.58, 89.0), (22.74, 88.2), (22.97, 87.2),
          (23.20, 87.7), (23.43, 87.4), (23.66, 87.9), (23.89, 88.2)]
p5_sonde = [79.1, 89.1, 86.15]

# ---------------- panel 6: precipitable water vapour ----------------
nan = float('nan')
p6_red = [(0.0, 2.16), (0.2, 2.18), (0.4, 2.20), (0.64, 2.28), (0.92, 2.31), (1.14, 2.29), (1.34, 2.24),
          (1.45, 2.29), (1.58, 2.31), (1.62, 2.45), (1.71, 2.39), (1.87, 2.29), (1.97, 2.25),
          (2.13, 2.26), (2.34, 2.33), (2.55, 2.37), (2.66, 2.38), (2.81, 2.35), (3.02, 2.39),
          (3.29, 2.39), (3.55, 2.35), (3.81, 2.33), (4.07, 2.32), (4.33, 2.27), (4.54, 2.25),
          (4.70, 2.31), (5.00, 2.29), (5.38, 2.30), (5.64, 2.28), (5.96, 2.32), (6.17, 2.26),
          (6.59, 2.24), (6.95, 2.28), (7.22, 2.31), (7.53, 2.35), (8.0, 2.36), (8.5, 2.40),
          (9.0, 2.45), (9.5, 2.48), (10.0, 2.48), (10.5, 2.46), (11.0, 2.49), (11.5, 2.48),
          (12.0, 2.50), (12.5, 2.47), (13.0, 2.52), (13.5, 2.55), (13.8, 2.53), (14.2, 2.50),
          (14.6, 2.45), (15.0, 2.50), (15.2, 2.52), (15.5, 2.38), (15.8, 2.32), (16.0, 2.28),
          (16.3, 2.22), (16.6, 2.25), (17.0, 2.29), (17.5, 2.27), (18.0, 2.30), (18.5, 2.32),
          (19.0, 2.30), (19.5, 2.33), (20.0, 2.35), (20.3, 2.31), (20.6, 2.32), (21.0, 2.24),
          (21.3, 2.28), (21.6, 2.31), (22.0, 2.34), (22.5, 2.37), (23.0, 2.33), (23.5, 2.36),
          (24.0, 2.40)]
p6_2c = [(0.0, 2.19), (0.3, 2.20), (0.6, 2.26), (0.9, 2.29), (1.2, 2.28), (1.4, 2.25), (1.58, 2.28),
         (1.59, nan), (1.600, 3.00), (1.603, 2.96), (1.606, nan), (1.610, 2.80), (1.614, 2.70),
         (1.62, nan), (1.64, 2.62), (1.67, 2.55), (1.71, 2.50), (1.76, 2.44), (1.85, 2.33),
         (1.95, 2.27), (2.15, 2.24), (2.4, 2.29), (2.6, 2.32), (2.8, 2.31), (3.0, 2.34), (3.3, 2.33),
         (3.6, 2.31), (3.9, 2.30), (4.2, 2.27), (4.55, 2.21), (4.8, 2.27), (5.2, 2.28), (5.6, 2.27),
         (6.0, 2.30), (6.5, 2.23), (7.0, 2.27), (7.5, 2.33), (8.0, 2.35), (9.0, 2.44), (10.0, 2.47),
         (11.0, 2.48), (12.0, 2.49), (13.0, 2.51), (13.5, 2.54), (14.2, 2.49), (14.6, 2.44),
         (15.2, 2.51), (15.5, 2.37), (16.0, 2.27), (16.3, 2.21), (17.0, 2.28), (18.0, 2.29),
         (19.0, 2.29), (20.0, 2.34), (21.0, 2.23), (22.0, 2.33), (23.0, 2.32), (24.0, 2.39)]
p6_3c = [(0, 2.15), (1, 2.28), (1.6, 2.33), (2, 2.25), (3, 2.37), (4, 2.33), (5, 2.28), (6, 2.29),
         (7, 2.27), (8, 2.35), (9, 2.44), (10, 2.47), (11, 2.48), (12, 2.49), (13, 2.51), (14, 2.51),
         (15, 2.49), (16, 2.27), (17, 2.28), (18, 2.29), (19, 2.30), (20, 2.34), (21, 2.24),
         (22, 2.33), (23, 2.33), (24, 2.39)]
p6_spike_up_t = [1.607, 1.607]
p6_spike_up = [3.78, 3.37]
p6_spike_dn_t = [1.596, 1.596]
p6_spike_dn = [1.97, 1.80]
p6_sonde = [2.34, 2.61, 2.44]


# ---------------- drawing helpers ----------------
fig = plt.figure(figsize=(12.75, 23.75), dpi=300)
fig.patch.set_facecolor('white')


def make_axes(i):
    top = 296 + 1125.6 * i
    return fig.add_axes([371 / W, 1 - (top + 900) / H, 2627 / W, 900 / H])


def finish(ax, ylim, yticks, ylabel):
    ax.set_xlim(0, 24)
    ax.set_ylim(*ylim)
    ax.set_xticks(xticks)
    ax.set_yticks(yticks)
    ax.yaxis.set_major_formatter(FuncFormatter(lambda v, p: '%g' % v))
    ax.tick_params(axis='y', direction='in', length=6.4, width=0.7, colors=AXBLUE,
                   labelsize=8.4, pad=8.9, right=False)
    ax.tick_params(axis='x', direction='in', length=6.4, width=0.7, colors=DARK,
                   labelsize=8.4, pad=7, top=False)
    ax.spines['left'].set_color(AXBLUE)
    ax.spines['right'].set_color(AXBLUE)
    ax.spines['bottom'].set_color(DARK)
    ax.spines['top'].set_visible(False)
    for sp in ax.spines.values():
        sp.set_linewidth(0.7)
        sp.set_zorder(5)
    ax.set_ylabel(ylabel, color=AXBLUE, fontsize=9.6, labelpad=11.5)
    ax.set_xlabel('UTC hours on 20241016', color=DARK, fontsize=10, labelpad=6)
    for a, b in day_shade:
        ax.axvspan(a, b, facecolor=(1, 1, 0), alpha=0.15, edgecolor='none', zorder=4)


def noisy_band(ax, t, lo, hi, color, alpha, z):
    # band of the raw (1 s) record: pale fill plus a zigzag between read extremes
    t = np.asarray(t, float)
    ax.fill_between(t, lo, hi, color=color, lw=0, alpha=alpha, zorder=z)
    step = np.diff(t).min()
    tz = np.column_stack([t, t + step / 2]).ravel()
    yz = np.column_stack([hi, lo]).ravel()
    ax.plot(tz[:-1], yz[:-1], color=color, lw=0.6, zorder=z)


def sonde(ax, vals):
    return ax.plot(sonde_t, vals, ls='none', marker='o', ms=16.8, mfc='#808080',
                   mec='black', mew=2.4, zorder=3.5)[0]


def legend(ax, handles, labels, x, y, sizes=None):
    leg = ax.legend(handles, labels, loc='upper left',
                    bbox_to_anchor=(x / W, 1 - y / H), bbox_transform=fig.transFigure,
                    frameon=False, borderpad=0, borderaxespad=0, handlelength=7.49,
                    handletextpad=0.82, labelspacing=0.23, fontsize=8.8, numpoints=1)
    leg.set_zorder(6)
    for h, lab in zip(leg.legend_handles, labels):
        if lab.startswith('Sonde'):
            h.set_markersize(13.2)
            h.set_markeredgewidth(2.2)
        elif sizes and lab in sizes:
            h.set_markersize(sizes[lab])
    return leg


def proxy(color, lw=1.0, **kw):
    return Line2D([], [], color=color, lw=lw, **kw)


# ---------------- panel 1 ----------------
ax = make_axes(0)
noisy_band(ax, p1_aos_t, p1_aos_lo, p1_aos_hi, LIGHTBLUE, 0.7, 2)
t, v = np.array(p1_aos1m).T
l_aos1m, = ax.plot(t, v, color=BLUE, lw=1.0, zorder=2.1)
t, v = np.array(p1_maws).T
l_maws, = ax.plot(t, v, color=NAVY, lw=1.0, drawstyle='steps-post', zorder=2.2)
noisy_band(ax, half_t, p1_met_lo, p1_met_hi, PLUM, 0.45, 2.3)
l_met, = ax.plot(half_t, p1_met_mid, color=PLUM, lw=1.0, zorder=2.3)
l_ecor, = ax.plot(ecor_t, p1_ecor, color=DARKORANGE, lw=1.2, zorder=2.5)
l_s = sonde(ax, p1_sonde)
finish(ax, (1000.31, 1011.19), np.arange(1001, 1011.5, 1), 'Srf Pres, hPA')
legend(ax, [proxy(LIGHTBLUE), l_aos1m, l_maws, proxy(PLUM), l_met, l_ecor, l_s],
       ['AOS srf pres', 'AOS srf pres (1 min)', 'MAWS srf pres (1 min)', 'MET srf pres',
        'MET srf pres', 'ECOR srf pres', 'Sonde (alt. 91.9m)'], 1978, 354)

# ---------------- panel 2 ----------------
ax = make_axes(1)
ax.fill_between(p2_aos_t, p2_aos_lo, p2_aos_hi, color=LIGHTBLUE, lw=0, alpha=0.85, zorder=2)
t, v = np.array(p2_aos_spikes).T
ax.plot(t, v, color=LIGHTBLUE, lw=0.6, zorder=2)
l_aos1m, = ax.plot(p2_aos1m_t, p2_aos1m, color=BLUE, lw=0.8, zorder=2.1)
l_maws, = ax.plot(p2_maws_t, p2_maws, color=NAVY, lw=0.8, zorder=2.2)
ax.fill_between(p2_met_core_t, p2_met_core_lo, p2_met_core_hi, color=PLUM, lw=0, alpha=0.7,
                zorder=2.25)
l_met, = ax.plot(p2_met_t, p2_met, color=PLUM, lw=0.8, zorder=2.3)
l_ecor, = ax.plot(ecor_t, p2_ecor, color=BROWN, lw=1.2, zorder=2.5)
l_s = sonde(ax, p2_sonde)
finish(ax, (2.21, 22.98), np.arange(4, 22.5, 2), 'Wind Speed, m/s')
legend(ax, [proxy(LIGHTBLUE), l_aos1m, l_maws, l_met, l_ecor, l_s],
       ['AOS wind speed', 'AOS wind speed (1 min)', 'MAWS wind speed', 'MET wind speed',
        'ECOR horizontal wind speed', 'Sonde (alt. 91.9m)'], 1922, 1952)

# ---------------- panel 3 ----------------
ax = make_axes(2)
ax.fill_between(p3_aos_t, p3_aos_lo, p3_aos_hi, color=LIGHTBLUE, lw=3, zorder=2)
t, v = np.array(p3_aos_out).T
l_aos, = ax.plot(t, v, ls='none', marker='o', ms=5.8, mfc='#D3EBF3', mec=LIGHTBLUE,
                 mew=1.4, zorder=2)
ax.fill_between(half_t, p3_met_lo, p3_met_hi, step='mid', color=PLUM, lw=0, zorder=2.1)
ax.fill_between(p3_maws_core_t, p3_maws_core_lo, p3_maws_core_hi, color=NAVY, lw=0, zorder=2.2)
l_maws, = ax.plot(p3_maws_t, p3_maws, ls='none', marker='D', ms=7.2, mfc='#5A4AB5',
                  mec=NAVY, mew=2.4, zorder=2.2)
l_ecor, = ax.plot(ecor_t, p3_ecor, ls='none', marker='*', ms=15.5, mfc=BROWN, mec=BROWN,
                  mew=0.5, zorder=2.5)
l_s = sonde(ax, p3_sonde)
finish(ax, (62.9, 162.8), np.arange(70, 161, 10), 'Wind Dir, degCWN')
legend(ax, [l_aos, l_maws, proxy(PLUM, ls='none', marker='s', mfc=PLUM, mec=PLUM), l_ecor, l_s],
       ['AOS wind dir', 'MAWS wind dir', 'MET Wind Dir', 'ECOR Wind Dir', 'Sonde (alt. 91.9m)'],
       2235, 3101, sizes={'AOS wind dir': 13.5, 'MAWS wind dir': 11.5, 'MET Wind Dir': 10.5,
                          'ECOR Wind Dir': 15.5})

# ---------------- panel 4 ----------------
ax = make_axes(3)
t, v = np.array(p4_aos).T
l_aos, = ax.plot(t, v, color=LIGHTBLUE, lw=1.0, drawstyle='steps-post', zorder=2)
t, v = np.array(p4_maws).T
l_maws, = ax.plot(t, v, color=NAVY, lw=1.0, drawstyle='steps-post', zorder=2.2)
t, v = np.array(p4_met).T
l_met, = ax.plot(t, v, color=PLUM, lw=1.0, zorder=2.3)
l_ecor, = ax.plot(ecor_t, p4_ecor, color=DARKORANGE, lw=1.2, zorder=2.5)
l_s = sonde(ax, p4_sonde)
finish(ax, (11.15, 15.16), np.arange(11.5, 15.01, 0.5), 'Temperature, °C')
legend(ax, [l_aos, l_maws, l_met, l_ecor, l_s],
       ['AOS srf air temp', 'MAWS srf air temp', 'MET srf air temp', 'ECOR srf air temp',
        'Sonde (alt. 91.9m)'], 1357, 3778)

# ---------------- panel 5 ----------------
ax = make_axes(4)
noisy_band(ax, p5_aos_t, p5_aos_lo, p5_aos_hi, LIGHTBLUE, 0.7, 2)
t, v = np.array(p5_aos1m).T
l_aos1m, = ax.plot(t, v, color=BLUE, lw=1.0, zorder=2.1)
t, v = np.array(p5_maws).T
l_maws, = ax.plot(t, v, color=NAVY, lw=1.0, drawstyle='steps-post', zorder=2.2)
t, v = np.array(p5_met).T
l_met, = ax.plot(t, v, color=PLUM, lw=1.0, zorder=2.3)
l_s = sonde(ax, p5_sonde)
finish(ax, (72.16, 95.59), np.arange(74, 94.5, 2), 'Relative Humidity, %')
legend(ax, [proxy(LIGHTBLUE), l_aos1m, l_maws, l_met, l_s],
       ['AOS RH', 'AOS RH (1 min)', 'MAWS RH', 'MET RH', 'Sonde (alt. 91.9m)'], 1357, 5356)

# ---------------- panel 6 ----------------
ax = make_axes(5)
t, v = np.array(p6_2c).T
l_2c, = ax.plot(t, v, color=ORANGE, lw=1.0, marker='X', ms=2.6, mew=0, zorder=2)
ax.plot(p6_spike_up_t, p6_spike_up, color=ORANGE, lw=1.0, zorder=2)
ax.plot(p6_spike_dn_t, p6_spike_dn, color=ORANGE, lw=1.0, zorder=2)
t, v = np.array(p6_3c).T
l_3c, = ax.plot(t, v, color=BROWN, lw=1.0, zorder=2.1)
t, v = np.array(p6_red).T
ax.plot(t, v, color='red', lw=3.2, marker='o', ms=3.6, mew=0,
        solid_capstyle='round', solid_joinstyle='round', zorder=2.2)
ax.plot(p6_spike_up_t, p6_spike_up, ls='none', marker='o', ms=3.0, color='red', mew=0, zorder=2.2)
ax.plot(p6_spike_dn_t, p6_spike_dn, ls='none', marker='o', ms=3.0, color='red', mew=0, zorder=2.2)
l_s = sonde(ax, p6_sonde)
finish(ax, (1.696, 3.885), np.arange(1.8, 3.81, 0.2), 'Precip. Water Vapor, mm')
legend(ax, [l_2c, l_3c, l_s], ['MWR 2C PWV', 'MWR 3C PWV', 'Sonde (alt. 91.9m)'], 2237, 5967,
       sizes={'MWR 2C PWV': 6.5})

fig.savefig('out.png', dpi=300)
